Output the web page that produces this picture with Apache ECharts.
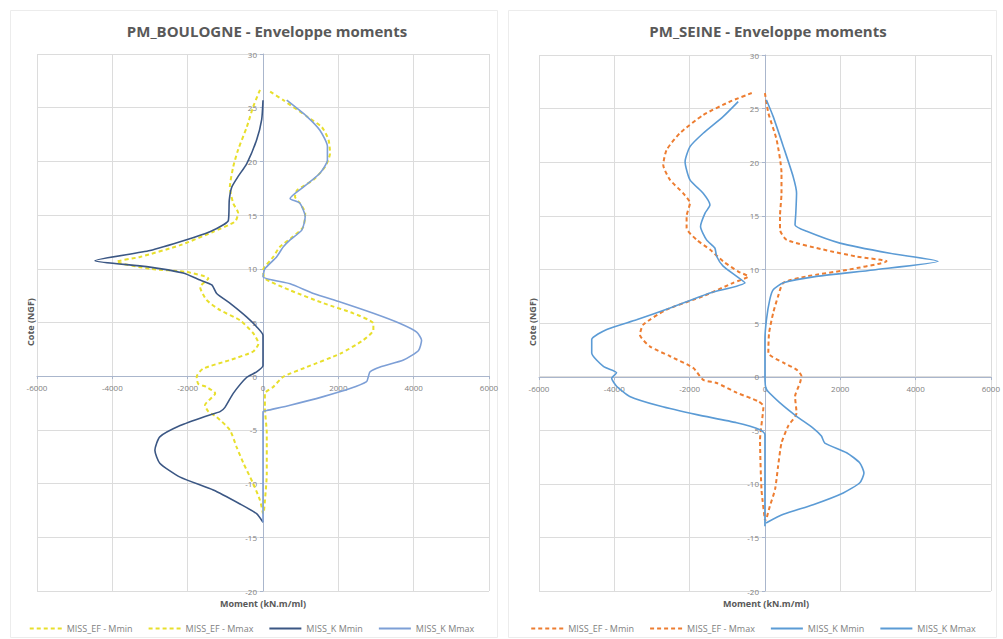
<!DOCTYPE html>
<html>
<head>
<meta charset="utf-8">
<script src="https://cdn.jsdelivr.net/npm/echarts@6/dist/echarts.min.js"></script>
<style>
  html, body { margin: 0; padding: 0; background: #ffffff; }
  #wrap { position: relative; width: 1003px; height: 639px; }
  #left { position: absolute; left: 0; top: 0; width: 503px; height: 639px; }
  #right { position: absolute; left: 503px; top: 0; width: 500px; height: 639px; }
</style>
</head>
<body>
<div id="wrap">
  <div id="left"></div>
  <div id="right"></div>
</div>
<script>
// Axis ranges and ticks
const momentTicks = { min: -6000, max: 6000, step: 2000 };
const coteTicks = { min: -20, max: 30, step: 5 };

// Series names
const seriesNames = ['MISS_EF - Mmin', 'MISS_EF - Mmax', 'MISS_K Mmin', 'MISS_K Mmax'];

// PM_BOULOGNE: [moment kN.m/ml, cote NGF]
const boulogneEfMin = [
  [-80, 26.65], [-260, 25.1], [-430, 23.2], [-660, 21.1], [-790, 19.5], [-880, 17.6],
  [-790, 16.1], [-660, 15.2], [-740, 14.4], [-1320, 13.45], [-2200, 12.2], [-3270, 11.1],
  [-3890, 10.65], [-3000, 10.0], [-2030, 9.7], [-1450, 9.1], [-1670, 8.3], [-1500, 7.1],
  [-1140, 6.15], [-610, 5.2], [-260, 4.0], [-120, 3.05], [-260, 2.3], [-880, 1.5],
  [-1590, 0.7], [-1760, -0.05], [-1720, -0.7], [-1500, -1.0], [-1270, -1.6], [-1540, -2.7],
  [-1450, -3.3], [-1230, -3.8], [-880, -5.0], [-700, -6.6], [-520, -8.1], [-260, -10.0],
  [-80, -11.55], [0, -12.8]
];
const boulogneEfMax = [
  [190, 26.5], [540, 25.7], [1160, 24.2], [1560, 23.2], [1740, 22.0], [1780, 20.75],
  [1650, 19.5], [1340, 18.3], [900, 17.3], [850, 16.7], [980, 16.1], [1120, 15.2],
  [1070, 13.9], [800, 13.0], [450, 12.05], [270, 11.1], [50, 10.2], [0, 9.9],
  [50, 9.1], [720, 8.0], [1600, 6.8], [2400, 5.85], [2930, 4.9], [2930, 4.3],
  [2660, 3.35], [2050, 2.1], [1160, 0.85], [540, -0.05], [270, -1.0], [50, -1.6],
  [50, -2.9], [100, -5.3], [100, -9.1], [20, -12.8]
];
const boulogneKMin = [
  [0, 25.7], [-35, 23.9], [-170, 22.0], [-430, 19.8], [-660, 18.6], [-830, 17.6],
  [-895, 16.4], [-920, 14.5], [-1050, 14.1], [-1410, 13.45], [-2030, 12.7], [-3000, 11.7],
  [-4460, 10.75], [-3090, 10.2], [-2120, 9.6], [-1670, 8.95], [-1360, 8.5], [-1230, 7.7],
  [-880, 6.8], [-430, 5.5], [-170, 4.6], [0, 3.8], [0, 1.0], [-170, 0.4],
  [-430, -0.1], [-790, -1.6], [-1010, -2.9], [-1140, -3.3], [-1500, -3.7], [-2200, -4.6],
  [-2740, -5.65], [-2870, -6.9], [-2740, -8.1], [-2200, -9.4], [-1320, -10.6], [-610, -11.9],
  [-170, -12.8], [0, -13.6]
];
const boulogneKMax = [
  [630, 25.7], [1160, 24.2], [1510, 22.9], [1710, 21.4], [1710, 20.1], [1510, 18.9],
  [1070, 17.6], [720, 16.55], [980, 16.1], [1120, 14.85], [1030, 13.6], [720, 12.7],
  [540, 12.05], [360, 11.1], [50, 10.0], [0, 9.25], [720, 8.6], [1340, 7.7],
  [2050, 6.9], [2930, 5.85], [3640, 4.9], [4080, 4.1], [4210, 3.35], [4130, 2.4],
  [3730, 1.5], [3110, 0.85], [2840, 0.4], [2800, 0.0], [2750, -0.5], [2310, -1.15],
  [1600, -1.9], [720, -2.7], [100, -3.2], [0, -3.3], [0, -13.6]
];

// PM_SEINE: [moment kN.m/ml, cote NGF]
const seineEfMin = [
  [-350, 26.45], [-930, 25.65], [-1640, 24.4], [-2260, 22.7], [-2610, 21.15], [-2700, 19.75],
  [-2520, 18.35], [-2170, 17.1], [-1990, 16.2], [-2080, 14.95], [-2080, 13.85], [-1810, 12.75],
  [-1460, 11.85], [-1110, 10.75], [-710, 9.8], [-440, 9.35], [-840, 8.75], [-1640, 7.5],
  [-2610, 6.25], [-3230, 4.85], [-3320, 3.9], [-3050, 2.8], [-2520, 1.9], [-1900, 0.8],
  [-1640, -0.3], [-1280, -0.6], [-750, -1.5], [-180, -2.3], [-40, -2.75], [-130, -5.9],
  [-90, -10.6], [0, -13.4]
];
const seineEfMax = [
  [0, 26.45], [90, 24.6], [310, 22.1], [440, 19.0], [440, 17.1], [400, 14.95],
  [400, 13.7], [580, 12.75], [1550, 11.85], [2440, 11.2], [3230, 10.75], [2170, 9.95],
  [1110, 9.35], [490, 8.75], [350, 7.5], [220, 5.95], [110, 4.05], [90, 2.2],
  [490, 1.3], [840, 0.65], [970, 0.05], [930, -0.6], [800, -1.85], [840, -3.4],
  [620, -4.6], [440, -6.2], [350, -8.35], [270, -10.5], [130, -12.1], [30, -13.4]
];
const seineKMin = [
  [-710, 25.65], [-1110, 24.25], [-1640, 22.7], [-1990, 21.45], [-2120, 20.05], [-1990, 18.35],
  [-1640, 17.1], [-1460, 16.0], [-1590, 15.25], [-1710, 14.0], [-1550, 12.75], [-1330, 12.0],
  [-1280, 11.2], [-1110, 10.3], [-750, 9.35], [-530, 8.75], [-1460, 7.8], [-2520, 6.4],
  [-3410, 5.3], [-4200, 4.4], [-4600, 3.45], [-4600, 2.2], [-4290, 0.95], [-3940, 0.35],
  [-4070, -0.15], [-3940, -0.9], [-3590, -1.85], [-2790, -2.75], [-1810, -3.55], [-750, -4.3],
  [-130, -4.95], [0, -5.4], [0, -13.95]
];
const seineKMax = [
  [40, 25.8], [220, 24.25], [490, 21.45], [750, 18.65], [840, 17.1], [820, 15.25],
  [800, 14.15], [1110, 13.55], [1990, 12.45], [3320, 11.5], [4600, 10.75], [2880, 9.95],
  [1370, 9.35], [490, 8.75], [220, 8.1], [130, 7.2], [40, 5.3], [0, 3.4],
  [0, 0.0], [40, -1.2], [400, -2.45], [840, -3.7], [1280, -4.8], [1500, -5.55],
  [1590, -6.2], [2170, -7.1], [2520, -8.05], [2630, -9.0], [2520, -9.9], [2080, -10.85],
  [1280, -11.95], [490, -12.85], [30, -13.65]
];

const FONT = '"Open Sans", "Liberation Sans", sans-serif';
const GRID_GRAY = '#dcdcdc';
const AXIS_BLUE = '#aab6cc';
const LABEL_GRAY = '#7f7f7f';

function lineSeries(name, data, color, dashed) {
  return {
    name: name,
    type: 'line',
    data: data,
    showSymbol: false,
    symbol: 'none',
    smooth: 0.2,
    lineStyle: { color: color, width: dashed ? 2 : 1.6, type: dashed ? [4, 3] : 'solid' },
    itemStyle: { color: color },
    z: dashed ? 2 : 3
  };
}

// Pixel offset that puts an axis on the other axis' zero value
function zeroOffset(length, min, max) {
  return -Math.round(length * (0 - min) / (max - min));
}

function buildOption(cfg) {
  const plotW = cfg.width - cfg.grid[0] - cfg.grid[1];
  const plotH = cfg.height - cfg.grid[2] - cfg.grid[3];
  return {
    animation: false,
    backgroundColor: '#ffffff',
    textStyle: { fontFamily: FONT },
    title: {
      text: cfg.title,
      left: cfg.titleX,
      top: 18,
      textAlign: 'center',
      textStyle: { fontFamily: FONT, fontSize: 15, fontWeight: 'bold', color: '#595959' }
    },
    graphic: [
      {
        type: 'rect', silent: true, z: -10,
        shape: { x: cfg.frame[0], y: cfg.frame[1], width: cfg.frame[2], height: cfg.frame[3] },
        style: { fill: 'none', stroke: '#ececec', lineWidth: 1 }
      },
      {
        type: 'text', x: cfg.axisNameX, y: 603,
        style: {
          text: 'Moment (kN.m/ml)', fill: '#595959', font: 'bold 9px ' + FONT,
          textAlign: 'center', textVerticalAlign: 'middle'
        }
      },
      {
        type: 'text', x: cfg.coteX, y: 322, rotation: Math.PI / 2,
        style: {
          text: 'Cote (NGF)', fill: '#595959', font: 'bold 9px ' + FONT,
          textAlign: 'center', textVerticalAlign: 'middle'
        }
      }
    ],
    legend: {
      data: seriesNames,
      left: 'center',
      top: 619,
      itemWidth: 32,
      itemHeight: 10,
      itemGap: 15,
      itemStyle: { opacity: 0 },
      textStyle: { fontFamily: FONT, fontSize: 9, color: LABEL_GRAY }
    },
    grid: { left: cfg.grid[0], right: cfg.grid[1], top: cfg.grid[2], bottom: cfg.grid[3], containLabel: false },
    xAxis: {
      type: 'value',
      position: 'bottom',
      min: momentTicks.min, max: momentTicks.max, interval: momentTicks.step,
      offset: zeroOffset(plotH, coteTicks.min, coteTicks.max),
      axisLine: { onZero: false, lineStyle: { color: AXIS_BLUE, width: 1 } },
      axisTick: { show: true, length: 3, lineStyle: { color: AXIS_BLUE } },
      axisLabel: { fontFamily: FONT, fontSize: 8, color: LABEL_GRAY, margin: 7, formatter: v => String(v) },
      splitLine: { show: true, lineStyle: { color: GRID_GRAY, width: 1 } }
    },
    yAxis: {
      type: 'value',
      position: 'left',
      min: coteTicks.min, max: coteTicks.max, interval: coteTicks.step,
      offset: zeroOffset(plotW, momentTicks.min, momentTicks.max),
      axisLine: { onZero: false, lineStyle: { color: AXIS_BLUE, width: 1 } },
      axisTick: { show: true, length: 3, lineStyle: { color: AXIS_BLUE } },
      axisLabel: { fontFamily: FONT, fontSize: 8, color: LABEL_GRAY, margin: 6, formatter: v => String(v) },
      splitLine: { show: true, lineStyle: { color: GRID_GRAY, width: 1 } }
    },
    series: cfg.series
  };
}

const leftChart = echarts.init(document.getElementById('left'), null, { renderer: 'svg' });
leftChart.setOption(buildOption({
  width: 503, height: 639,
  title: 'PM_BOULOGNE - Enveloppe moments',
  titleX: 262,
  frame: [10.5, 10.5, 487, 627],
  axisNameX: 263,
  coteX: 30,
  grid: [37, 14, 54, 48],
  series: [
    lineSeries(seriesNames[0], boulogneEfMin, '#e8df2c', true),
    lineSeries(seriesNames[1], boulogneEfMax, '#e8df2c', true),
    lineSeries(seriesNames[2], boulogneKMin, '#3b5784', false),
    lineSeries(seriesNames[3], boulogneKMax, '#7d9fd6', false)
  ]
}));

const rightChart = echarts.init(document.getElementById('right'), null, { renderer: 'svg' });
rightChart.setOption(buildOption({
  width: 500, height: 639,
  title: 'PM_SEINE - Enveloppe moments',
  titleX: 260,
  frame: [5.5, 10.5, 488, 627],
  axisNameX: 263,
  coteX: 29,
  grid: [36, 12, 55, 48],
  series: [
    lineSeries(seriesNames[0], seineEfMin, '#ed7d31', true),
    lineSeries(seriesNames[1], seineEfMax, '#ed7d31', true),
    lineSeries(seriesNames[2], seineKMin, '#5b9bd5', false),
    lineSeries(seriesNames[3], seineKMax, '#5b9bd5', false)
  ]
}));
</script>
</body>
</html>
